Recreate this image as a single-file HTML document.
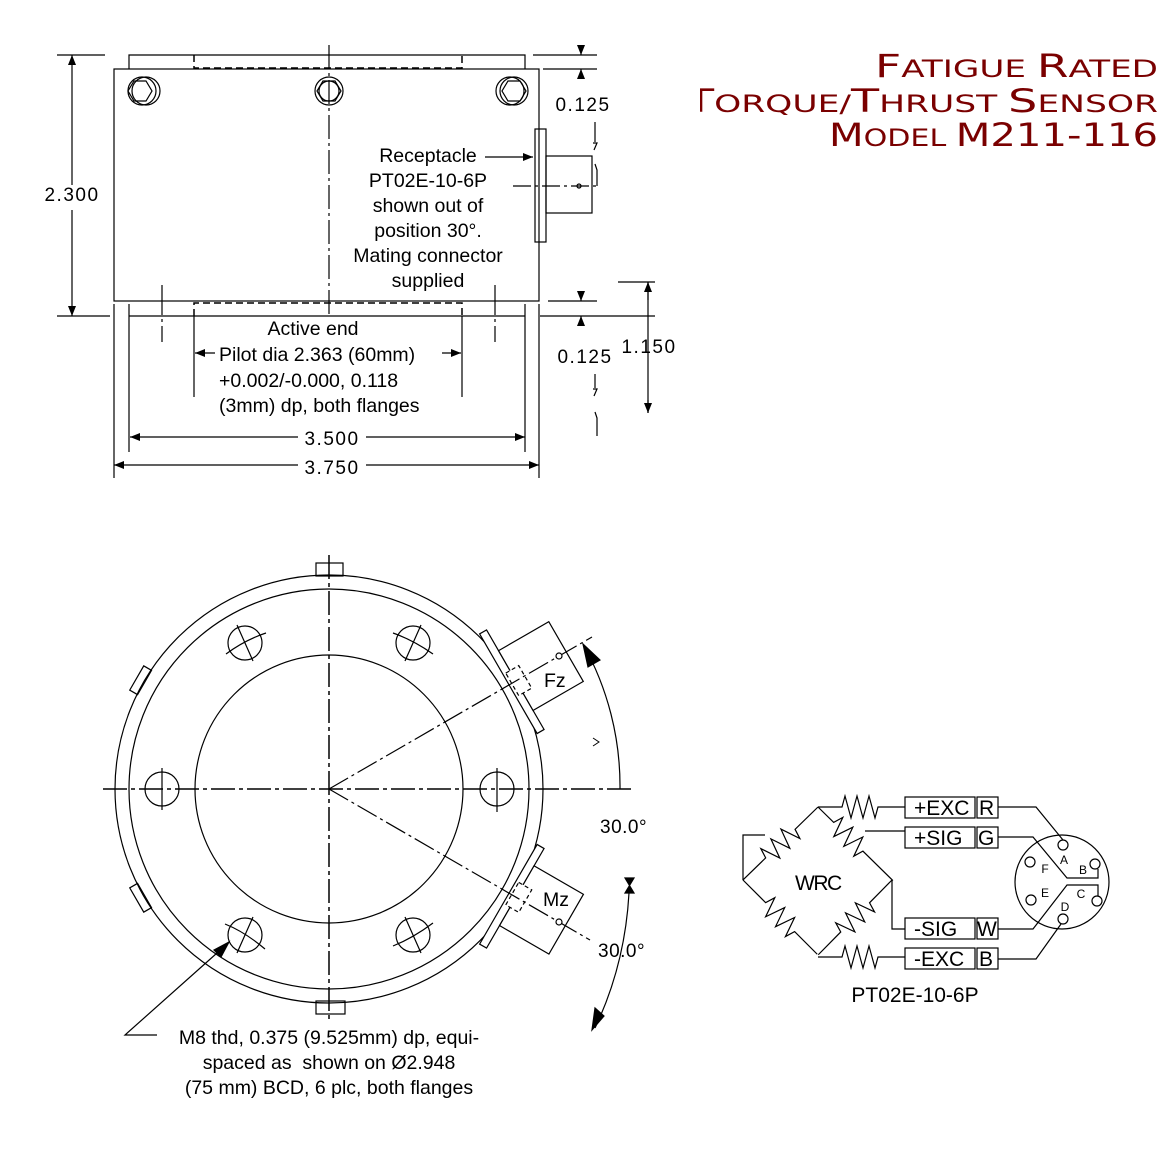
<!DOCTYPE html>
<html><head><meta charset="utf-8"><style>
html,body{margin:0;padding:0;background:#fff;}
svg{display:block;}
text{font-family:"Liberation Sans",Arial,sans-serif;fill:#000;}
.d{font-size:19px;letter-spacing:1.5px;}
.t{font-size:19.5px;}
</style></head><body>
<svg width="1165" height="1171" viewBox="0 0 1165 1171" xmlns="http://www.w3.org/2000/svg">
<defs>
<marker id="a" viewBox="0 0 10 10" refX="10" refY="5" markerWidth="10" markerHeight="10" markerUnits="userSpaceOnUse" orient="auto"><path d="M0,1 L10,5 L0,9 Z" fill="#000"/></marker>
<clipPath id="tc"><rect x="700" y="0" width="465" height="200"/></clipPath>
</defs>
<g fill="none" stroke="#000" stroke-width="1.2">
<!-- TOP VIEW -->
<rect x="114" y="69" width="425" height="232"/>
<path d="M129,69 V55 H525 V69"/>
<path d="M194,55 V68 H462 V55" stroke-dasharray="7,4" stroke-width="1.5"/>
<path d="M194,316 V303 H462 V316" stroke-dasharray="7,4" stroke-width="1.5"/>
<path d="M129,304 V452 M525,304 V452 M114,304 V478 M539,304 V478 M194,316 V397 M462,316 V397"/>
<path d="M129,316 H525"/>
<path d="M329,45 V316" stroke-dasharray="24,4,3,4"/>
<path d="M162,285 V342 M495,285 V342" stroke-dasharray="30,4,3,4"/>
<!-- bolts -->
<circle cx="142" cy="91" r="14"/><circle cx="146" cy="91" r="14"/><path d="M134,81 H146 L152,91 L146,101 H134 L128,91 Z"/>
<circle cx="329" cy="91" r="14"/><circle cx="329" cy="91" r="10"/><path d="M323,81 H335 L341,91 L335,101 H323 L317,91 Z"/>
<circle cx="510" cy="91" r="14"/><circle cx="514" cy="91" r="14"/><path d="M508,81 H520 L526,91 L520,101 H508 L502,91 Z"/>
<!-- connector -->
<rect x="535" y="129" width="11" height="113"/>
<rect x="546" y="156" width="46" height="57"/>
<path d="M513,186 H600" stroke-dasharray="18,4,3,4"/>
<circle cx="579" cy="186" r="2"/>
<path d="M485,157 H533" marker-end="url(#a)"/>
<!-- 2.300 -->
<path d="M57,55 H105 M57,316 H110"/>
<path d="M72,185 V55" marker-end="url(#a)"/><path d="M72,210 V316" marker-end="url(#a)"/>
<!-- right 0.125 -->
<path d="M533,55 H597 M543,69 H597 M548,301 H597 M540,316 H655 M618,282 H655"/>
<path d="M581,46 V55" marker-end="url(#a)"/><path d="M581,78 V69" marker-end="url(#a)"/>
<path d="M581,292 V301" marker-end="url(#a)"/><path d="M581,325 V316" marker-end="url(#a)"/>
<path d="M595,122 V142 M593,143 H597 L594,150 M595,164 L597,170 V186"/>
<path d="M595,374 V388 M593,389 H597 L594,396 M595,412 L597,418 V436"/>
<path d="M648,282 V413" />
<path d="M648,300 V282" marker-end="url(#a)"/><path d="M648,400 V413" marker-end="url(#a)"/>
<!-- 3.500 / 3.750 -->
<path d="M298,437 H130" marker-end="url(#a)"/><path d="M366,437 H525" marker-end="url(#a)"/>
<path d="M298,465 H114" marker-end="url(#a)"/><path d="M366,465 H539" marker-end="url(#a)"/>
<path d="M215,353 H195" marker-end="url(#a)"/><path d="M442,353 H461" marker-end="url(#a)"/>

<!-- BOTTOM VIEW -->
<circle cx="329" cy="789" r="214"/>
<circle cx="329" cy="789" r="200"/>
<circle cx="329" cy="789" r="134"/>
<rect x="316" y="563" width="27" height="13"/>
<rect x="316" y="1001" width="29" height="13"/>
<g transform="translate(329,789)">
<g transform="rotate(-150)"><rect x="213" y="-14" width="9" height="28"/></g>
<g transform="rotate(150)"><rect x="213" y="-14" width="9" height="28"/></g>
<g transform="rotate(-30)">
<rect x="208" y="-59" width="8" height="115" fill="#fff"/>
<rect x="216" y="-35" width="58" height="69" fill="#fff"/>
<rect x="211" y="-12" width="15" height="26" fill="#fff" stroke-dasharray="4,3"/>
</g>
<g transform="rotate(30)">
<rect x="208" y="-56" width="8" height="115" fill="#fff"/>
<rect x="216" y="-36" width="57" height="69" fill="#fff"/>
<rect x="211" y="-14" width="15" height="26" fill="#fff" stroke-dasharray="4,3"/>
</g>
</g>
<path d="M329,789 L592,637" stroke-dasharray="22,4,3,4"/>
<path d="M329,789 L590,940" stroke-dasharray="22,4,3,4"/>
<circle cx="559" cy="656" r="3" fill="#fff"/>
<circle cx="559" cy="922" r="3" fill="#fff"/>
<path d="M103,789 H632" stroke-dasharray="24,4,4,4" stroke-width="1.5"/>
<path d="M329,555 V1020" stroke-dasharray="24,4,4,4" stroke-width="1.5"/>
<!-- holes -->
<g>
<circle cx="162" cy="789" r="17"/><path d="M162,768 V810"/>
<circle cx="497" cy="789" r="17"/><path d="M497,768 V812"/>
<circle cx="245" cy="643" r="17"/><path d="M237,625 L253,661 M226,654 Q245,640 266,633"/>
<circle cx="413" cy="643" r="17"/><path d="M421,625 L405,661 M393,633 Q413,640 433,654"/>
<circle cx="245" cy="935" r="17"/><path d="M253,917 L237,953 M225,924 Q245,932 265,949"/>
<circle cx="413" cy="935" r="17"/><path d="M405,917 L421,953 M393,946 Q413,938 433,923"/>
</g>
<!-- angles -->
<path d="M620,789 A291,291 0 0 0 583,644"/>
<path d="M600,660 L583,644 L588,667 Z" fill="#000"/>
<path d="M593,738 L599,742 L593,746" stroke-width="1"/>
<path d="M625,878 H634 L625,893 H634 Z" fill="#000"/>
<path d="M629,893 Q625,965 595,1028"/>
<path d="M592,1030 L595,1008 L604,1016 Z" fill="#000"/>
<!-- leader -->
<path d="M157,1035 H125 L226,945" />
<path d="M229,942 L214,950 L221,957 Z" fill="#000"/>

<!-- WIRING -->
<rect x="905" y="797" width="70" height="21"/><rect x="977" y="797" width="21" height="21"/>
<rect x="905" y="827" width="70" height="21"/><rect x="977" y="827" width="21" height="21"/>
<rect x="905" y="918" width="70" height="21"/><rect x="977" y="918" width="21" height="21"/>
<rect x="905" y="948" width="70" height="21"/><rect x="977" y="948" width="21" height="21"/>
<path d="M818,807 H842 l3,-11 l6,22 l6,-22 l6,22 l6,-22 l6,22 l3,-11 H905"/>
<path d="M818,957 H842 l3,-11 l6,22 l6,-22 l6,22 l6,-22 l6,22 l3,-11 H905"/>
<g transform="translate(818,807) rotate(135.8)"><path d="M0,0 H32 l3,-10 l7,20 l7,-20 l7,20 l7,-20 l7,20 l3,-10 H105"/></g>
<g transform="translate(818,807) rotate(44.5)"><path d="M0,0 H22 l3,-10 l7,20 l7,-20 l7,20 l7,-20 l7,20 l3,-10 H105"/></g>
<g transform="translate(743,880) rotate(45)"><path d="M0,0 H32 l3,-10 l7,20 l7,-20 l7,20 l7,-20 l7,20 l3,-10 H105"/></g>
<g transform="translate(892,880) rotate(134.6)"><path d="M0,0 H32 l3,-10 l7,20 l7,-20 l7,20 l7,-20 l7,20 l3,-10 H105"/></g>
<path d="M765,835 H743 V880"/>
<path d="M865,831 H905"/>
<path d="M892,880 V929 H905"/>
<circle cx="1062" cy="882" r="47"/>
<circle cx="1063" cy="845" r="5"/><circle cx="1095" cy="864" r="5"/><circle cx="1030" cy="862" r="5"/>
<circle cx="1031" cy="900" r="5"/><circle cx="1097" cy="901" r="5"/><circle cx="1063" cy="919" r="5"/>
<path d="M998,807 H1036 L1063,840"/>
<path d="M998,837 H1033 L1067,878 H1098 V869"/>
<path d="M998,929 H1033 L1067,885 H1098 V896"/>
<path d="M998,959 H1036 L1061,924"/>
</g>

<!-- texts -->
<text class="d" x="72" y="201" text-anchor="middle">2.300</text>
<text class="d" x="583" y="111" text-anchor="middle">0.125</text>
<text class="d" x="585" y="363" text-anchor="middle">0.125</text>
<text class="d" x="649" y="353" text-anchor="middle">1.150</text>
<text class="d" x="332" y="445" text-anchor="middle">3.500</text>
<text class="d" x="332" y="474" text-anchor="middle">3.750</text>
<g class="t" text-anchor="middle">
<text x="428" y="162" class="t">Receptacle</text>
<text x="428" y="187" class="t">PT02E-10-6P</text>
<text x="428" y="212" class="t">shown out of</text>
<text x="428" y="237" class="t">position 30°.</text>
<text x="428" y="262" class="t">Mating connector</text>
<text x="428" y="287" class="t">supplied</text>
<text x="313" y="335" class="t">Active end</text>
</g>
<text x="219" y="361" class="t">Pilot dia 2.363 (60mm)</text>
<text x="219" y="387" class="t">+0.002/-0.000, 0.118</text>
<text x="219" y="412" class="t">(3mm) dp, both flanges</text>
<text x="544" y="687" class="t">Fz</text>
<text x="543" y="906" class="t">Mz</text>
<text x="600" y="833" class="d" style="letter-spacing:0.5px">30.0°</text>
<text x="598" y="957" class="d" style="letter-spacing:0.5px">30.0°</text>
<g text-anchor="middle">
<text x="329" y="1044" class="t">M8 thd, 0.375 (9.525mm) dp, equi-</text>
<text x="329" y="1069" class="t" xml:space="preserve">spaced as  shown on Ø2.948</text>
<text x="329" y="1094" class="t">(75 mm) BCD, 6 plc, both flanges</text>
</g>
<text x="795" y="890" style="font-size:21px;letter-spacing:-1.5px">WRC</text>
<g style="font-size:21px">
<text x="914" y="815">+EXC</text><text x="979" y="815">R</text>
<text x="914" y="845">+SIG</text><text x="978" y="845">G</text>
<text x="914" y="936">-SIG</text><text x="977" y="936">W</text>
<text x="914" y="966">-EXC</text><text x="979" y="966">B</text>
</g>
<g style="font-size:12px" text-anchor="middle">
<text x="1064" y="864">A</text><text x="1083" y="874">B</text><text x="1045" y="873">F</text>
<text x="1045" y="897">E</text><text x="1081" y="898">C</text><text x="1065" y="911">D</text>
</g>
<text x="915" y="1002" text-anchor="middle" style="font-size:21px">PT02E-10-6P</text>

<g clip-path="url(#tc)">
<text x="1158" y="77" text-anchor="end" textLength="283" lengthAdjust="spacingAndGlyphs" style="fill:#7a0000;font-family:'DejaVu Sans',sans-serif"><tspan font-size="32">F</tspan><tspan font-size="24">ATIGUE </tspan><tspan font-size="32">R</tspan><tspan font-size="24">ATED</tspan></text>
<text x="1158" y="112" text-anchor="end" textLength="472" lengthAdjust="spacingAndGlyphs" style="fill:#7a0000;font-family:'DejaVu Sans',sans-serif"><tspan font-size="32">T</tspan><tspan font-size="24">ORQUE/</tspan><tspan font-size="32">T</tspan><tspan font-size="24">HRUST </tspan><tspan font-size="32">S</tspan><tspan font-size="24">ENSOR</tspan></text>
<text x="1158" y="146" text-anchor="end" textLength="329" lengthAdjust="spacingAndGlyphs" style="fill:#7a0000;font-family:'DejaVu Sans',sans-serif"><tspan font-size="32">M</tspan><tspan font-size="24">ODEL </tspan><tspan font-size="32">M211-116</tspan></text>
</g>
</svg>
</body></html>
